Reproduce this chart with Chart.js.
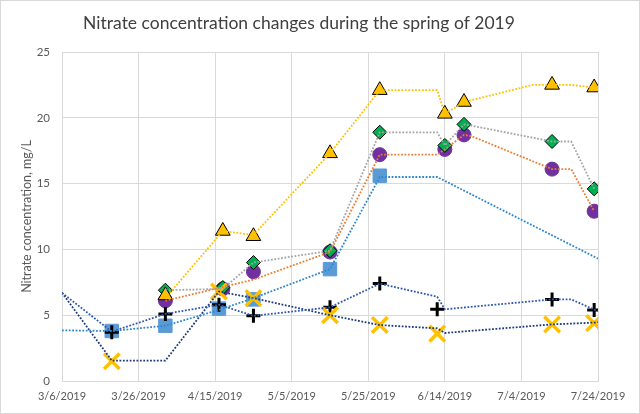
<!DOCTYPE html>
<html>
<head>
<meta charset="utf-8">
<script src="https://cdn.jsdelivr.net/npm/chart.js@4.4.1/dist/chart.umd.min.js"></script>
<style>
  html, body { margin: 0; padding: 0; background: #fff; }
  #wrap { width: 640px; height: 414px; }
</style>
</head>
<body>
<div id="wrap"><canvas id="nitrate" width="640" height="414"></canvas></div>
<script>
// sampling dates (M/D, 2019) and nitrate values, mg/L
var siteDates   = ['4/2', '4/17', '4/25', '5/15', '5/28', '6/14', '6/19', '7/12', '7/23'];
var triValues   = [6.5, 11.4, 11.0, 17.3, 22.1, 20.3, 21.2, 22.5, 22.3];
var diaValues   = [6.9, 7.1, 9.0, 9.9, 18.9, 17.9, 19.5, 18.2, 14.6];
var circValues  = [6.1, 7.0, 8.3, 9.8, 17.2, 17.6, 18.7, 16.1, 12.9];

var sqDates     = ['3/19', '4/2', '4/16', '4/25', '5/15', '5/28'];
var sqValues    = [3.8, 4.2, 5.5, 6.2, 8.5, 15.6];

var crossDates  = ['3/19', '4/2', '4/16', '4/25', '5/15', '5/28', '6/12', '7/12', '7/23'];
var crossValues = [3.7, 5.1, 5.8, 4.95, 5.6, 7.4, 5.45, 6.2, 5.4];

var xDates      = ['3/19', '4/16', '4/25', '5/15', '5/28', '6/12', '7/12', '7/23'];
var xValues     = [1.5, 6.8, 6.3, 5.0, 4.25, 3.6, 4.3, 4.4];

// dotted trend lines, vertices
var triLineDates    = ['4/2', '4/17', '4/25', '5/15', '5/28', '6/12', '6/14', '6/19', '7/7', '7/17', '7/23'];
var triLineValues   = [6.3, 11.4, 11.1, 17.3, 22.1, 22.1, 20.3, 21.2, 22.5, 22.5, 22.3];
var diaLineDates    = ['4/2', '4/17', '4/25', '5/15', '5/28', '6/12', '6/14', '6/19', '6/21', '7/12', '7/17', '7/23'];
var diaLineValues   = [6.9, 7.0, 9.0, 9.9, 18.9, 18.9, 17.9, 19.5, 19.4, 18.2, 18.2, 14.6];
var circLineDates   = ['4/2', '4/25', '5/15', '5/28', '6/12', '6/14', '6/19', '6/21', '7/12', '7/17', '7/23'];
var circLineValues  = [6.1, 7.7, 9.8, 17.2, 17.2, 17.6, 18.7, 18.6, 16.1, 16.1, 12.9];
var sqLineDates     = ['3/6', '3/19', '4/2', '4/16', '4/25', '5/15', '5/28', '6/12', '7/24'];
var sqLineValues    = [3.85, 3.8, 4.2, 5.4, 6.3, 8.5, 15.5, 15.5, 9.3];
var crossLineDates  = ['3/6', '3/19', '4/2', '4/16', '4/25', '5/15', '5/28', '6/12', '6/14', '7/12', '7/17', '7/24'];
var crossLineValues = [6.7, 3.75, 5.1, 5.8, 4.95, 5.6, 7.4, 6.4, 5.45, 6.2, 6.2, 5.3];
var xLineDates      = ['3/6', '3/19', '4/2', '4/16', '4/25', '5/15', '5/28', '6/12', '6/14', '7/12', '7/24'];
var xLineValues     = [6.7, 1.55, 1.55, 6.8, 6.3, 5.0, 4.25, 4.0, 3.65, 4.3, 4.45];

var axisStart = '3/6';
var axisEnd = '7/24';
var tickStep = 20; // days

var DAY = 86400000;
var START = Date.UTC(2019, 2, 6);

function dayOf(s) {
    var p = s.split('/');
    return (Date.UTC(2019, p[0] - 1, +p[1]) - START) / DAY;
}
function pts(dates, vals) {
    return dates.map(function (d, i) { return { x: dayOf(d), y: vals[i] }; });
}
function fmtDay(v) {
    var d = new Date(START + v * DAY);
    return (d.getUTCMonth() + 1) + '/' + d.getUTCDate() + '/2019';
}

function lineSet(label, dates, vals, color, order) {
    return {
        label: label,
        data: pts(dates, vals),
        showLine: true,
        borderColor: color,
        borderWidth: 1.8,
        borderDash: [1.8, 1.6],
        pointRadius: 0,
        pointHoverRadius: 0,
        tension: 0,
        fill: false,
        order: order
    };
}
function markSet(label, dates, vals, style, radius, fillColor, edgeColor, edgeWidth, order) {
    return {
        label: label,
        data: pts(dates, vals),
        showLine: false,
        pointStyle: style,
        pointRadius: radius,
        pointHoverRadius: radius,
        backgroundColor: fillColor,
        borderColor: edgeColor,
        borderWidth: edgeWidth,
        order: order
    };
}

var frame = {
    id: 'frame',
    beforeDraw: function (chart) {
        var c = chart.ctx;
        c.save();
        c.fillStyle = '#fff';
        c.fillRect(0, 0, chart.width, chart.height);
        c.strokeStyle = '#D9D9D9';
        c.lineWidth = 1;
        c.strokeRect(0.5, 0.5, chart.width - 1, chart.height - 1);
        c.restore();
    }
};

var fontFam = 'Lato, "Open Sans", sans-serif';

var ctx = document.getElementById('nitrate').getContext('2d');
var nitrateChart = new Chart(ctx, {
    type: 'scatter',
    data: {
        datasets: [
            lineSet('trend A', triLineDates, triLineValues, '#FFC000', 1),
            lineSet('trend B', diaLineDates, diaLineValues, '#A5A5A5', 2),
            lineSet('trend C', circLineDates, circLineValues, '#ED7D31', 3),
            lineSet('trend D', sqLineDates, sqLineValues, '#2E86D1', 4),
            lineSet('trend E', crossLineDates, crossLineValues, '#2F58B0', 5),
            lineSet('trend F', xLineDates, xLineValues, '#1F3A7A', 6),
            markSet('A', siteDates, triValues, 'triangle', 8.5, '#FFC000', '#000', 1, 10),
            markSet('F', xDates, xValues, 'crossRot', 11, '#FFC000', '#FFC000', 3.5, 11),
            markSet('E', crossDates, crossValues, 'cross', 7, '#000', '#000', 3, 12),
            markSet('B', siteDates, diaValues, 'rectRot', 7, '#00B050', '#000', 1, 13),
            markSet('C', siteDates, circValues, 'circle', 7, '#7030A0', '#7030A0', 1, 14),
            markSet('D', sqDates, sqValues, 'rect', 9.5, '#5B9BD5', '#5B9BD5', 1, 15)
        ]
    },
    options: {
        responsive: false,
        animation: false,
        layout: { padding: { left: 0, right: 42, top: 0, bottom: 0 } },
        plugins: {
            legend: { display: false },
            tooltip: { enabled: false },
            title: {
                display: true,
                text: 'Nitrate concentration changes during the spring of 2019',
                color: '#404040',
                font: { family: fontFam, size: 17.5, weight: 'normal' },
                padding: { top: 12.5, bottom: 18.5 }
            }
        },
        scales: {
            x: {
                type: 'linear',
                min: dayOf(axisStart),
                max: dayOf(axisEnd),
                ticks: {
                    stepSize: tickStep,
                    callback: fmtDay,
                    color: '#595959',
                    font: { family: fontFam, size: 11 },
                    padding: 9,
                    maxRotation: 0
                },
                grid: { color: '#D9D9D9', drawTicks: false },
                border: { color: '#D9D9D9' },
                afterFit: function (s) { s.height = 33; }
            },
            y: {
                min: 0,
                max: 25,
                ticks: {
                    stepSize: 5,
                    color: '#595959',
                    font: { family: fontFam, size: 11.5 },
                    padding: 12
                },
                grid: { color: '#D9D9D9', drawTicks: false },
                border: { color: '#D9D9D9' },
                title: {
                    display: true,
                    text: 'Nitrate concentration, mg/L',
                    color: '#595959',
                    font: { family: fontFam, size: 12.5 },
                    padding: { top: 19, bottom: 0 }
                },
                afterFit: function (s) { s.width = 62; }
            }
        }
    },
    plugins: [frame]
});
</script>
</body>
</html>
